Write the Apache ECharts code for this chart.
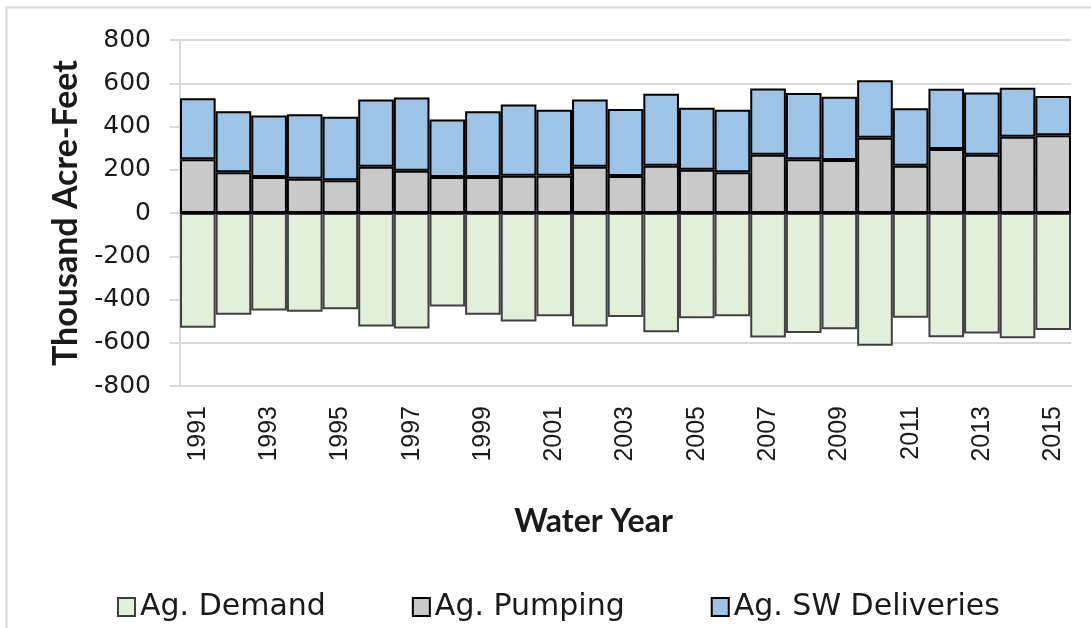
<!DOCTYPE html>
<html>
<head>
<meta charset="utf-8">
<script src="https://cdn.jsdelivr.net/npm/echarts@6/dist/echarts.min.js"></script>
<style>
  html, body { margin: 0; padding: 0; background: #fff; }
  #chart { width: 1091px; height: 628px; }
</style>
</head>
<body>
<div id="chart"></div>
<script>
// Water years
const years = [
  "1991", "1992", "1993", "1994", "1995", "1996", "1997", "1998", "1999", "2000",
  "2001", "2002", "2003", "2004", "2005", "2006", "2007", "2008", "2009", "2010",
  "2011", "2012", "2013", "2014", "2015"
];

// Thousand acre-feet
const pumping = [
  249, 188, 166, 158, 152, 214, 195, 166, 166, 172,
  172, 214, 171, 219, 200, 188, 269, 248, 245, 348,
  219, 296, 269, 353, 359
];
const swDeliveries = [
  282, 282, 285, 299, 293, 311, 339, 266, 304, 330,
  306, 311, 310, 333, 287, 290, 307, 307, 292, 266,
  265, 278, 288, 226, 182
];
const demand = [
  -531, -470, -451, -457, -445, -525, -534, -432, -470, -502,
  -478, -525, -481, -552, -487, -478, -576, -555, -537, -614,
  -484, -574, -557, -579, -541
];

const yTicks = { min: -800, max: 800, step: 200 };

const wideFont = "'DejaVu Sans', sans-serif";
const narrowFont = "'Liberation Sans Narrow', 'Liberation Sans', sans-serif";
const boldFont = "Lato, 'Open Sans', sans-serif";
const gridGray = "#d9d9d9";
const ink = "#1a1a1a";

// Get chart container
const chart = echarts.init(document.getElementById("chart"));

const option = {
  animation: false,
  // Outer frame
  graphic: [
    {
      type: "rect",
      shape: { x: 6.5, y: 7.5, width: 1200, height: 700 },
      style: { fill: "none", stroke: gridGray, lineWidth: 2 },
      silent: true,
    },
  ],
  grid: { left: 180, right: 20, top: 40, bottom: 242 },
  legend: {
    top: 587,
    left: 112,
    icon: "rect",
    itemWidth: 17,
    itemHeight: 18,
    itemGap: 86,
    data: ["Ag. Demand", "Ag. Pumping", "Ag. SW Deliveries"],
    textStyle: { fontSize: 30, color: ink, fontFamily: wideFont },
  },
  xAxis: [
    {
      type: "category",
      data: years,
      position: "bottom",
      axisLine: { onZero: false, lineStyle: { color: gridGray, width: 2 } },
      axisTick: { interval: 0, length: 11, lineStyle: { color: gridGray, width: 2 } },
      axisLabel: {
        interval: 1,
        rotate: 90,
        margin: 20,
        fontSize: 25,
        color: ink,
        fontFamily: narrowFont,
      },
      name: "Water Year",
      nameLocation: "middle",
      nameGap: 120,
      nameTextStyle: {
        fontSize: 32,
        fontWeight: "bold",
        color: ink,
        fontFamily: boldFont,
        padding: [0, 64, 0, 0],
      },
    },
    {
      // inner half of the crossing ticks
      type: "category",
      data: years,
      position: "bottom",
      axisLine: { show: false, onZero: false },
      axisTick: { inside: true, interval: 0, length: 9, lineStyle: { color: gridGray, width: 2 } },
      axisLabel: { show: false },
    },
  ],
  yAxis: [
    {
      type: "value",
      min: yTicks.min,
      max: yTicks.max,
      interval: yTicks.step,
      axisLine: { show: true, lineStyle: { color: gridGray, width: 2 } },
      axisTick: { show: true, length: 10, lineStyle: { color: gridGray, width: 2 } },
      splitLine: { lineStyle: { color: gridGray, width: 2 } },
      axisLabel: { fontSize: 25, color: ink, margin: 29, fontFamily: wideFont },
      name: "Thousand Acre-Feet",
      nameLocation: "middle",
      nameRotate: 90,
      nameGap: 92,
      nameTextStyle: { fontSize: 34, fontWeight: "bold", color: ink, fontFamily: boldFont },
    },
  ],
  series: [
    {
      name: "Ag. Pumping",
      type: "bar",
      stack: "water",
      barCategoryGap: "0%",
      data: pumping,
      itemStyle: { color: "#c9c9c9", borderColor: "#000", borderWidth: 2 },
    },
    {
      name: "Ag. SW Deliveries",
      type: "bar",
      stack: "water",
      barCategoryGap: "0%",
      data: swDeliveries,
      itemStyle: { color: "#9dc3e6", borderColor: "#000", borderWidth: 2 },
    },
    {
      name: "Ag. Demand",
      type: "bar",
      stack: "water",
      barCategoryGap: "0%",
      data: demand,
      itemStyle: { color: "#e2efda", borderColor: "#404040", borderWidth: 2 },
      // black zero line
      markLine: {
        silent: true,
        symbol: "none",
        label: { show: false },
        lineStyle: { color: "#000", width: 2, type: "solid" },
        data: [{ yAxis: 0 }],
      },
    },
  ],
};

// Render chart
chart.setOption(option);
</script>
</body>
</html>
